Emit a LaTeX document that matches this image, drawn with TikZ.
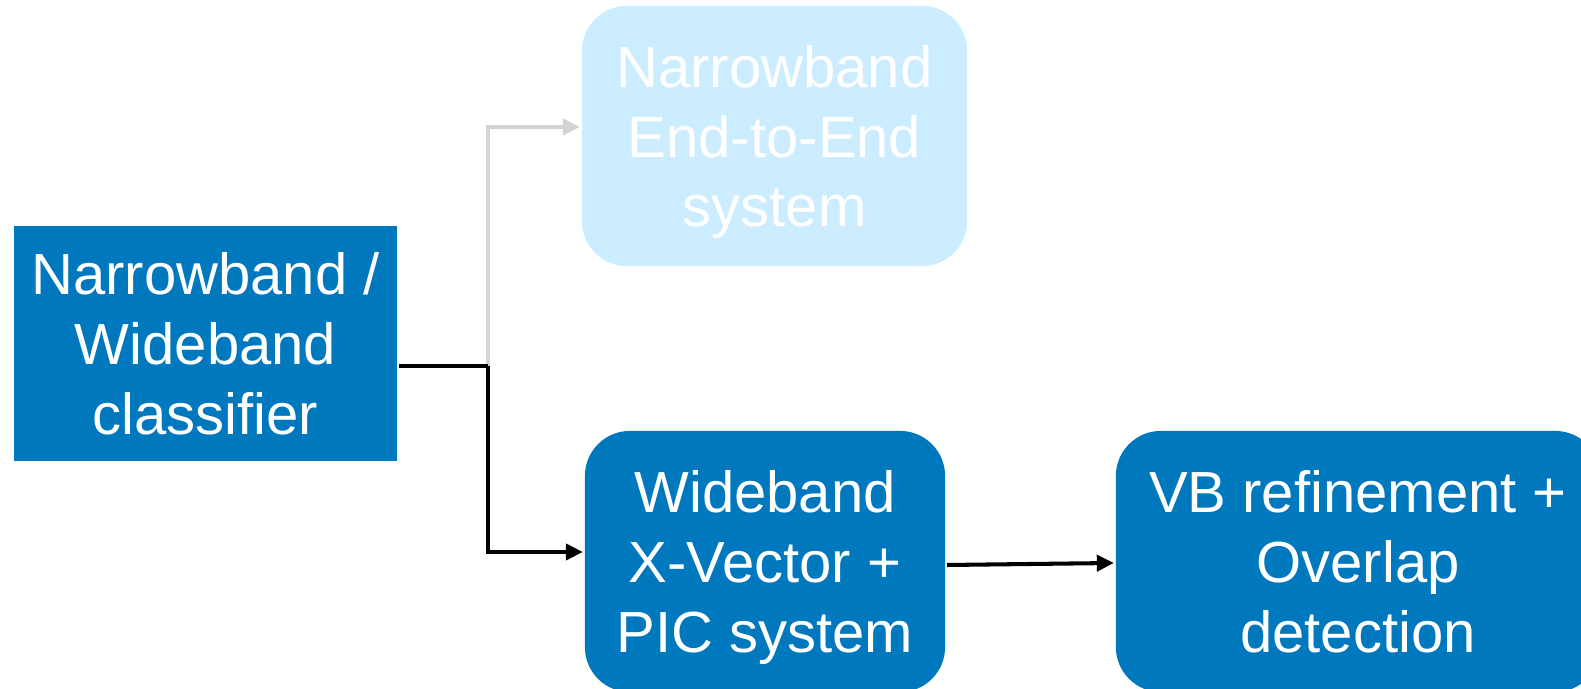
\documentclass[tikz,border=0pt]{standalone}
\usepackage{fontspec}
\setmainfont{Liberation Sans}
\usetikzlibrary{arrows.meta}
\definecolor{deep}{RGB}{0, 120, 190}
\definecolor{pale}{RGB}{204, 236, 255}
\definecolor{faint}{RGB}{211, 211, 211}

\begin{document}
\begin{tikzpicture}[x=0.01cm, y=-0.01cm, line width=1.15pt,
  box/.style={fill=deep, text=white, align=center, inner sep=0pt, text depth=0pt,
    font=\fontsize{16.5}{19.9}\selectfont},
  soft/.style={box, rounded corners=0.45cm},
  link/.style={-{Triangle[length=0.17cm, width=0.16cm]}}]
  \clip (0, 0) rectangle (1581, 689);

  \node[box, minimum width=3.83cm, minimum height=2.35cm] (classifier) at (205.5, 343.5)
    {Narrowband /\\Wideband\\classifier};
  \node[soft, fill=pale, minimum width=3.85cm, minimum height=2.60cm] (narrow) at (774.5, 136)
    {Narrowband\\End-to-End\\system};
  \node[soft, minimum width=3.60cm, minimum height=2.61cm] (wide) at (765, 561.5)
    {Wideband\\X-Vector +\\PIC system};
  \node[soft, minimum width=4.84cm, minimum height=2.61cm] (refine) at (1358, 561.5)
    {VB refinement +\\Overlap\\detection};

  \coordinate (split) at (488, 366);

  \draw[link, faint] (split) |- ([yshift=0.09cm]narrow.west);
  \draw (classifier.east |- split) -- (split);
  \draw[link] (split) |- ([yshift=0.095cm]wide.west);
  \draw[link] ([yshift=-0.035cm]wide.east) -- ([yshift=-0.015cm]refine.west);

\end{tikzpicture}
\end{document}
